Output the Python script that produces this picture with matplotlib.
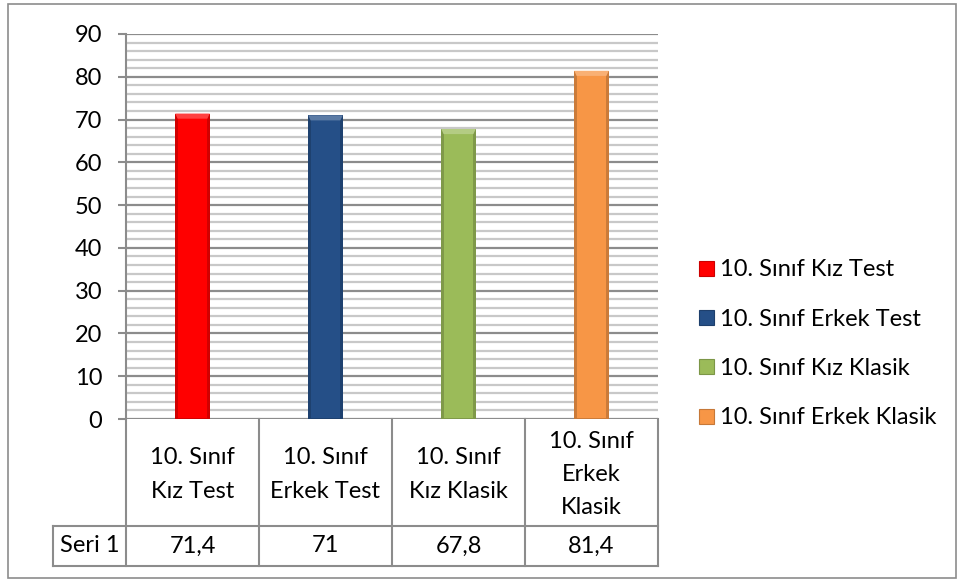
import textwrap
import matplotlib
matplotlib.use("Agg")
import matplotlib.pyplot as plt
from matplotlib.patches import Patch, Rectangle, Polygon
from matplotlib.lines import Line2D
from matplotlib.transforms import blended_transform_factory
import matplotlib.colors as mcolors

plt.rcParams['font.family'] = ['Lato', 'DejaVu Sans']

# Data
categories = ["10. Sınıf Kız Test", "10. Sınıf Erkek Test",
              "10. Sınıf Kız Klasik", "10. Sınıf Erkek Klasik"]
values = [71.4, 71, 67.8, 81.4]
series_name = "Seri 1"
colors = ["#FF0000", "#254F87", "#9BBB59", "#F79646"]
y_ticks = [0, 10, 20, 30, 40, 50, 60, 70, 80, 90]

W, H = 958, 580
fig = plt.figure(figsize=(W / 100, H / 100), dpi=100)


def fx(px):
    return px / W


def fy(py):
    return 1 - py / H


GRID_MAJOR = "#8C8C8C"
GRID_MINOR = "#C8C8C8"
AXIS = "#8C8C8C"
TXT = "#000000"
FS = 17

# outer chart frame
fig.add_artist(Rectangle((fx(8), fy(578)), fx(948), 574 / H,
                         transform=fig.transFigure, fill=False,
                         edgecolor="#8C8C8C", lw=1.2))

left, right, top, bottom = 126, 658, 34, 419
ax = fig.add_axes([fx(left), fy(bottom), fx(right - left), (bottom - top) / H])
ax.set_xlim(-0.5, len(categories) - 0.5)
ax.set_ylim(0, 90)
for s in ["top", "right", "bottom"]:
    ax.spines[s].set_visible(False)
ax.spines["left"].set_color(AXIS)
ax.spines["left"].set_linewidth(1.5)
ax.set_xticks([])
ax.set_yticks(y_ticks)
ax.set_yticks([v for v in range(0, 91, 2) if v % 10], minor=True)
ax.tick_params(axis="y", which="major", length=6, width=1.5, color=AXIS,
               pad=11, labelsize=FS, labelcolor=TXT)
ax.tick_params(axis="y", which="minor", length=0)
ax.grid(axis="y", which="major", color=GRID_MAJOR, lw=1.6, zorder=0)
ax.grid(axis="y", which="minor", color=GRID_MINOR, lw=1.6, zorder=0)
ax.set_axisbelow(True)
ax.axhline(0, color=AXIS, lw=1.8, zorder=1)

# bevelled bars
bw = 0.26
for i, (v, c) in enumerate(zip(values, colors)):
    rgb = mcolors.to_rgb(c)
    dark = tuple(x * 0.82 for x in rgb)
    light = tuple(x + (1 - x) * 0.25 for x in rgb)
    ax.bar(i, v, bw, color=dark, zorder=3, lw=0)
    ax.bar(i, v - 0.6, bw * 0.86, bottom=0.3, color=c, zorder=4, lw=0)
    cap = Polygon([(i - bw / 2, v), (i + bw / 2, v),
                   (i + bw * 0.43, v - 1.2), (i - bw * 0.43, v - 1.2)],
                  closed=True, facecolor=light, lw=0, zorder=5)
    ax.add_patch(cap)

# data table under the plot
tr = blended_transform_factory(ax.transData, fig.transFigure)
row1_top, row2_top, row2_bot = 419, 526, 566
line_kw = dict(color=AXIS, lw=1.5)
# vertical cell borders
for b in [i + 0.5 for i in range(len(categories))]:
    fig.add_artist(Line2D([b, b], [fy(row1_top), fy(row2_bot)], transform=tr, **line_kw))
fig.add_artist(Line2D([fx(left), fx(left)], [fy(row1_top), fy(row2_bot)],
                      transform=fig.transFigure, **line_kw))
fig.add_artist(Line2D([fx(53), fx(53)], [fy(row2_top), fy(row2_bot)],
                      transform=fig.transFigure, **line_kw))
for yy in (row2_top, row2_bot):
    fig.add_artist(Line2D([fx(53), fx(right)], [fy(yy), fy(yy)],
                          transform=fig.transFigure, **line_kw))

fig.text(fx((53 + left) / 2), fy((row2_top + row2_bot) / 2), series_name,
         ha="center", va="center", fontsize=FS, color=TXT)


def fmt(v):
    s = f"{v:g}"
    return s.replace(".", ",")


for i, (cat, v) in enumerate(zip(categories, values)):
    label = "\n".join(textwrap.wrap(cat, 10))
    fig.text(i, fy((row1_top + row2_top) / 2 + 2), label, transform=tr,
             ha="center", va="center", fontsize=FS, color=TXT,
             linespacing=1.72, multialignment="center")
    fig.text(i, fy((row2_top + row2_bot) / 2), fmt(v), transform=tr,
             ha="center", va="center", fontsize=FS, color=TXT)

# legend
handles = [Patch(facecolor=c, edgecolor=tuple(x * 0.8 for x in mcolors.to_rgb(c)), lw=0.8)
           for c in colors]
fig.legend(handles, categories, loc="center left",
           bbox_to_anchor=(fx(690), fy(344)), frameon=False,
           fontsize=FS, handlelength=0.6, handleheight=0.6,
           handletextpad=0.25, labelspacing=1.2, borderaxespad=0)

fig.savefig("out.png", dpi=100)
